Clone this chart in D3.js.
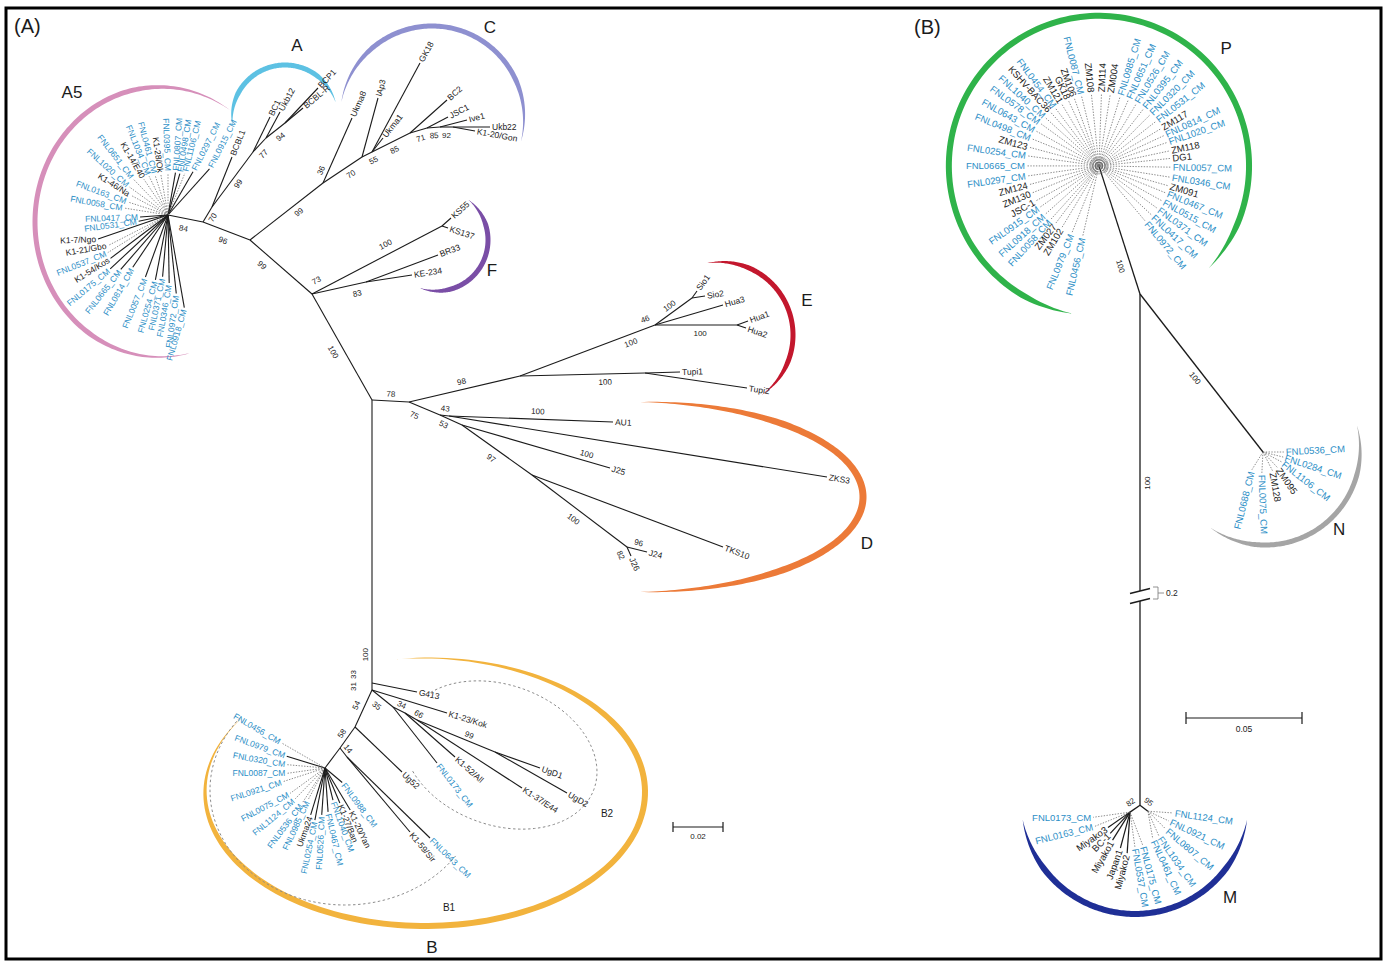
<!DOCTYPE html>
<html>
<head>
<meta charset="utf-8">
<script src="https://cdn.jsdelivr.net/npm/d3@7/dist/d3.min.js"></script>
<style>
  body { margin: 0; background: #fff; }
  text { font-family: "Liberation Sans", Arial, sans-serif; }
</style>
</head>
<body>
<div id="fig"></div>
<script>
// ---------- data ----------
// panel A: nodes [id, parent, x, y], positions in 0.001 substitutions/site from the central node
var nodesA = [
  ["r", null, 0, 0],
  ["nB", "r", 0, 113.2],
  ["nE0", "r", 14.8, 0.8],
  ["nEup", "nE0", 59.2, -9.6],
  ["nE1", "nEup", 113.2, -30],
  ["nSio", "nE1", 128, -40.8],
  ["Sio1", "nSio", 130, -43.6],
  ["Sio2", "nSio", 133.2, -41.6],
  ["Hua3", "nE1", 140.4, -38],
  ["nHua", "nE1", 146, -30],
  ["Hua1", "nHua", 150.4, -31.6],
  ["Hua2", "nHua", 149.6, -28.8],
  ["nTupi", "nEup", 109.2, -10.8],
  ["Tupi1", "nTupi", 123.2, -11.2],
  ["Tupi2", "nTupi", 150, -4.8],
  ["nD0", "nE0", 27.2, 6],
  ["nD1", "nD0", 30.8, 6.4],
  ["AU1", "nD1", 96.4, 8.8],
  ["ZKS3", "nD1", 182, 30.8],
  ["nD2", "nD0", 36, 10],
  ["J25", "nD2", 95.2, 27.2],
  ["nD3", "nD2", 64, 30],
  ["TKS10", "nD3", 140.4, 58.8],
  ["nD4", "nD3", 102, 58.8],
  ["J24", "nD4", 110, 60.8],
  ["J26", "nD4", 103.6, 62.4],
  ["nF", "r", -24, -42.4],
  ["nKS", "nF", 28, -69.6],
  ["KS55", "nKS", 31.6, -72.8],
  ["KS137", "nKS", 30.4, -68.8],
  ["nBK", "nF", -2.4, -47.2],
  ["BR33", "nBK", 26.4, -58],
  ["KE-234", "nBK", 16, -50],
  ["nAC", "nF", -48.8, -64],
  ["nAA", "nAC", -67.6, -71.2],
  ["nA5", "nAA", -81.6, -74],
  ["nA0", "nAA", -64, -77.2],
  ["BCBL1", "nA0", -56, -97.2],
  ["nA1", "nA0", -47.6, -99.2],
  ["BC1", "nA1", -40.8, -113.2],
  ["nA2", "nA1", -42.4, -104.8],
  ["Ukb12", "nA2", -36.8, -115.2],
  ["nA3", "nA2", -34.8, -110.8],
  ["BCBL-R", "nA3", -27.6, -116.8],
  ["BCP1", "nA3", -21.6, -124.8],
  ["nC0", "nAC", -19.6, -86.8],
  ["Ukma8", "nC0", -8, -112.8],
  ["nC1", "nC0", -4, -97.2],
  ["lAp3", "nC1", 2.4, -120.8],
  ["nC2", "nC1", 0, -99.2],
  ["GK18", "nC2", 19.2, -134.8],
  ["Ukma1", "nC2", 4.4, -104.8],
  ["nC3", "nC2", 15.2, -106.8],
  ["BC2", "nC3", 30, -120],
  ["nC4", "nC3", 22, -108.8],
  ["JSC1", "nC4", 30.4, -113.2],
  ["nC5", "nC4", 27.2, -109.2],
  ["Ive1", "nC5", 38, -112],
  ["nC6", "nC5", 32.4, -109.2],
  ["Ukb22", "nC6", 47.2, -109.2],
  ["K1-20/Gon", "nC6", 41.2, -107.6],
  ["G413", "nB", 18, 116.8],
  ["nB2", "nB", 0, 116],
  ["K1-23/Kok", "nB2", 30, 125.2],
  ["nB3", "nB2", 8.4, 122.8],
  ["FNL0173_CM", "nB3", 26, 145.2],
  ["nB4", "nB3", 13.2, 125.2],
  ["K1-52/All", "nB4", 33.2, 142.8],
  ["nB5", "nB4", 18, 128],
  ["K1-37/E44", "nB5", 60, 155.2],
  ["nB6", "nB5", 49.2, 140.8],
  ["UgD1", "nB6", 67.2, 147.2],
  ["UgD2", "nB6", 78, 157.2],
  ["nBL", "nB2", -6.8, 130.8],
  ["Ug52", "nBL", 12, 148.8],
  ["nBL2", "nBL", -12.8, 139.2],
  ["nBL3", "nBL2", -10, 142.8],
  ["K1-59/Sir", "nBL3", 15.2, 172.8],
  ["FNL0643_CM", "nBL3", 23.2, 175.2],
  ["nB1", "nBL2", -18.8, 147.2]
];

// bootstrap support [child node, value]
var bootValuesA = [
  ["nF", "100"], ["nKS", "73"], ["nBK", "83"], ["nKS", "100"], ["nAC", "99"], ["nAA", "96"],
  ["nA5", "84"], ["nA0", "70"], ["nA1", "99"], ["nA2", "77"], ["nA3", "94"], ["nC0", "99"],
  ["Ukma8", "36"], ["nC1", "70"], ["nC2", "55"], ["nC3", "85"], ["nC4", "71"], ["nC5", "85"],
  ["nC6", "92"], ["nEup", "98"], ["nE0", "78"], ["nD0", "75"], ["nD1", "43"], ["nD2", "53"],
  ["AU1", "100"], ["J25", "100"], ["nD3", "97"], ["nD4", "100"], ["J24", "96"], ["J26", "82"],
  ["nE1", "100"], ["nE1", "46"], ["nSio", "100"], ["nHua", "100"], ["nTupi", "100"],
  ["nB", "100"], ["nB", "33"], ["nB2", "31"], ["nB3", "35"], ["nB4", "34"], ["nB5", "66"],
  ["nB6", "99"], ["nBL", "54"], ["nBL2", "58"], ["nBL3", "14"]
];

// star-like clusters: [taxon, angle deg, branch length (0.001 subs/site), solid?, label angle]
var leavesA5 = [
  ["FNL0915_CM", 312, 24.8, 1, 297], ["FNL0297_CM", 300, 20, 1, 297], ["FNL1106_CM", 292, 18, 0, 284],
  ["FNL0498_CM", 286, 17.2, 1, 279], ["FNL0807_CM", 280, 17.2, 1, 274], ["FNL0395_CM", 270, 16.8, 0, 268],
  ["K1-28/Ok", 260, 16.4, 0, 262], ["FNL0461_CM", 252, 16.8, 0, 255], ["FNL1034_CM", 244, 17.2, 0, 248],
  ["K1-14/E40", 236, 17.2, 0, 240], ["FNL0651_CM", 226, 20, 0, 232], ["FNL1020_CM", 216, 19.2, 0, 222],
  ["K1-46/Na", 208, 16.8, 0, 212], ["FNL0163_CM", 198, 16.8, 0, 200], ["FNL0058_CM", 189, 17.6, 0, 190],
  ["FNL0417_CM", 176, 11.2, 1, 178], ["FNL0531_CM", 168, 12, 1, 172], ["K1-7/Ngo", 161, 29.6, 1, 178],
  ["K1-21/Gbo", 153, 26.8, 0, 170], ["FNL0537_CM", 148, 28.4, 0, 158], ["K1-54/Kos", 143, 28.8, 1, 148],
  ["FNL0175_CM", 137, 31.6, 1, 140], ["FNL0665_CM", 131, 28.8, 1, 128], ["FNL0814_CM", 124, 25.2, 1, 120],
  ["FNL0057_CM", 110, 26.4, 1, 112], ["FNL0254_CM", 101, 26.4, 1, 106], ["FNL0371_CM", 95, 24.8, 1, 102],
  ["FNL0346_CM", 89, 27.2, 1, 100], ["FNL0972_CM", 84, 31.6, 1, 98], ["FNL0918_CM", 80, 37.6, 1, 106]
];
var leavesB1 = [
  ["FNL0456_CM", 210, 20, 0, 210], ["FNL0979_CM", 197, 16, 1, 200], ["FNL0320_CM", 185, 15.2, 0, 190],
  ["FNL0087_CM", 172, 15.2, 0, 180], ["FNL0921_CM", 162, 17.6, 0, 162], ["FNL0075_CM", 144, 17.2, 0, 152],
  ["FNL1124_CM", 134, 17.2, 0, 140], ["FNL0536_CM", 123, 16.8, 0, 127], ["FNL0985_CM", 118, 14.4, 0, 115],
  ["Ukma24", 107, 19.6, 1, 110], ["FNL0254_CM", 101, 21.2, 1, 102], ["FNL0526_CM", 94, 18.8, 1, 93],
  ["FNL0467_CM", 86, 17.6, 1, 77], ["FNL1040_CM", 76, 13.2, 1, 70], ["K1-27/Ban", 67, 15.2, 1, 68],
  ["K1-20/Yan", 59, 19.6, 1, 64], ["FNL0988_CM", 40, 9, 1, 53]
];

// panel B: nodes in 0.001 substitutions/site; the M branch crosses a 0.2 cut
var breakB = [128, 328];
var nodesB = [
  ["nT", null, 0, 0],
  ["nP", "nT", -17.7, -55.2],
  ["nN", "nT", 53, 68.1],
  ["nM", "nT", 0, 416],
  ["nM1", "nM", -4.3, 419],
  ["nM2", "nM", 3.4, 418.6]
];
var bootValuesB = [["nP", "100"], ["nN", "100"], ["nM", "100"], ["nM1", "82"], ["nM2", "95"]];

// [taxon, angle deg]
var leavesP = [
  ["FNL0456_CM", 103], ["FNL0979_CM", 112], ["ZM102", 121], ["ZM027", 127], ["FNL0058_CM", 132],
  ["FNL0918_CM", 138], ["FNL0915_CM", 145], ["JSC-1", 151], ["ZM130", 158], ["ZM124", 165],
  ["FNL0297_CM", 172], ["FNL0665_CM", 180], ["FNL0254_CM", 188], ["ZM123", 195], ["FNL0498_CM", 202],
  ["FNL0643_CM", 209], ["FNL0578_CM", 216], ["FNL1040_CM", 222], ["KSHV-BAC36", 228], ["FNL0454_CM", 233],
  ["ZM121", 239], ["GK18", 245], ["ZM106", 250], ["FNL0087_CM", 256], ["ZM108", 264], ["ZM114", 272],
  ["ZM004", 279], ["FNL0985_CM", 287], ["FNL0651_CM", 294], ["FNL0526_CM", 301], ["FNL0395_CM", 308],
  ["FNL0320_CM", 315], ["FNL0531_CM", 322], ["ZM117", 329], ["FNL0814_CM", 335], ["FNL1020_CM", 341],
  ["ZM118", 348], ["DG1", 354], ["FNL0057_CM", 361], ["FNL0346_CM", 369], ["ZM091", 376],
  ["FNL0467_CM", 382], ["FNL0515_CM", 389], ["FNL0371_CM", 396], ["FNL0417_CM", 403], ["FNL0972_CM", 410]
];
// [taxon, angle, label angle]
var leavesN = [
  ["FNL0536_CM", 0, -3], ["FNL0284_CM", 14, 18], ["FNL1106_CM", 28, 38], ["ZM095", 47, 55],
  ["ZM128", 63, 80], ["FNL0075_CM", 93, 88], ["FNL0688_CM", 122, 104]
];
// [taxon, node, angle, length, solid?, label angle]
var leavesM = [
  ["FNL0173_CM", "nM1", 172, 16, 0, 180], ["FNL0163_CM", "nM1", 158, 16.4, 0, 166],
  ["Miyako3", "nM1", 145, 11.6, 1, 145], ["BC-1", "nM1", 133, 12.5, 1, 135],
  ["Miyako1", "nM1", 122, 14.2, 1, 120], ["Japan1", "nM1", 105, 16, 1, 110],
  ["Miyako2", "nM1", 94, 17.7, 1, 105], ["FNL0537_CM", "nM1", 82, 15.1, 0, 80],
  ["FNL0175_CM", "nM1", 69, 15.1, 0, 75], ["FNL0461_CM", "nM2", 80, 12.1, 0, 65],
  ["FNL1034_CM", "nM2", 66, 11.6, 0, 55], ["FNL0807_CM", "nM2", 45, 10.8, 0, 40],
  ["FNL0921_CM", "nM2", 25, 9.9, 0, 25], ["FNL1124_CM", "nM2", 4, 10.8, 0, 8]
];

// ---------- layout ----------
var BLUE = "#2b8ec6", INK = "#1b1b1b";
var W = 1386, H = 962;

// where each bootstrap sits along its branch: [fraction, offset px]
var bootPlaceA = [
  [0.5, -10], [0.07, 10], [0.8, -9], [0.6, 10], [0.69, -11], [0.5, -10],
  [0.5, -10], [0.5, -6], [0.5, -7], [0.3, -9], [0.5, -8], [0.6, -8],
  [0.15, 7], [0.6, -8], [0.8, -8], [0.5, -8], [0.5, -8], [0.5, -8],
  [0.5, -8], [0.49, 8], [0.5, 7], [0.3, -10], [0.5, 7], [0.3, -7],
  [0.54, 8], [0.83, 7], [0.5, -10], [0.5, -10], [0.5, 7], [0.5, -9],
  [0.8, -8], [0.95, 9], [0.5, 7], [0.55, -8], [0.68, -8],
  [0.9, 7], [0.97, 19], [0.5, 19], [0.5, -9], [0.5, 6], [0.9, 6],
  [0.64, 6], [0.5, 8], [0.5, 7], [0.5, 6]
];
var bootPlaceB = [[0.24, -10], [0.5, -8], [0.37, -7], [0.5, 8], [0.5, 8]];

var cladeArcsA = [
  { name: "A5", color: "#d68fba", cx: -84.8, cy: -71.2, rx: 50, ry: 54, rot: 0, a0: -55, a1: -285, w: 5, lx: -120, ly: -123 },
  { name: "A", color: "#5dc1e3", cx: -34.8, cy: -112.8, rx: 21.2, ry: 21.2, rot: 0, a0: 171, a1: 343, w: 5, lx: -30, ly: -142 },
  { name: "C", color: "#8e90d0", cx: 24, cy: -112.8, rx: 36.8, ry: 36.8, rot: 0, a0: 190, a1: 375, w: 5, lx: 47.2, ly: -149 },
  { name: "F", color: "#7a4ea6", cx: 26, cy: -64, rx: 20.4, ry: 20.4, rot: 0, a0: -52, a1: 110, w: 5, lx: 48, ly: -52 },
  { name: "E", color: "#c3172d", cx: 139.2, cy: -26, rx: 29.2, ry: 29.2, rot: 0, a0: -100, a1: 55, w: 5, lx: 174, ly: -40 },
  { name: "D", color: "#ec7a38", cx: 107.2, cy: 38.8, rx: 89.2, ry: 38, rot: 0, a0: -90, a1: 90, w: 7, lx: 198, ly: 57.2 },
  { name: "B", color: "#f2b33d", cx: 21.2, cy: 156.8, rx: 88, ry: 53.6, rot: 0, a0: 214, a1: -98, w: 6, lx: 24, ly: 218.8 }
];
var dashedA = [
  { name: "B1", cx: -10.8, cy: 156, rx: 54, ry: 46, rot: 0, a0: 219, a1: 35, lx: 30.8, ly: 202.8 },
  { name: "B2", cx: 51.2, cy: 142, rx: 40, ry: 28, rot: 20, a0: -150, a1: 140, lx: 94, ly: 165.2 }
];
var cladeArcsB = [
  { name: "P", color: "#2fb34a", cx: -17.7, cy: -55.2, rx: 64.7, ry: 64.7, rot: 0, a0: 100, a1: 403, w: 6, plateau: 5, lx: 37.1, ly: -106 },
  { name: "N", color: "#a5a5a5", cx: 53.9, cy: 67.2, rx: 41, ry: 41, rot: 0, a0: -15, a1: 125, w: 5, lx: 85.8, ly: 101.3 },
  { name: "M", color: "#1f2f96", cx: -2.2, cy: 413.8, rx: 49.1, ry: 49.1, rot: 0, a0: 170, a1: 10, w: 6, plateau: 2, lx: 38.8, ly: 455.6 }
];

// 1 unit = 0.001 substitutions per site
var xA = d3.scaleLinear().domain([0, 20]).range([372, 422]);
var yA = d3.scaleLinear().domain([0, 20]).range([400, 450]);
var xB = d3.scaleLinear().domain([0, 50]).range([1140, 1256]);
var yB = d3.scaleLinear().domain([0, breakB[0], breakB[1], 428]).range([294, 591, 601, 833]);

var svg = d3.select("#fig").append("svg").attr("width", W).attr("height", H);
svg.append("rect").attr("width", W).attr("height", H).attr("fill", "#fff");

function tipLabel(g, p, ang, name, fs) {
  var a = ang * Math.PI / 180, flip = Math.cos(a) < -1e-9;
  var q = [p[0] + 2 * Math.cos(a), p[1] + 2 * Math.sin(a)];
  g.append("text")
    .attr("transform", "translate(" + q[0] + "," + q[1] + ") rotate(" + (flip ? ang - 180 : ang) + ")")
    .attr("text-anchor", flip ? "end" : "start")
    .attr("dy", "0.35em")
    .attr("font-size", fs)
    .attr("fill", /^FNL/.test(name) ? BLUE : INK)
    .text(name);
}

function drawTree(g, rows, xs, ys, gap, fs, sw) {
  var m = {};
  rows.forEach(function (d) { m[d[0]] = { id: d[0], parent: d[1], x: d[2], y: d[3], kids: 0 }; });
  rows.forEach(function (d) { if (d[1]) m[d[1]].kids++; });
  var pos = function (n) { return [xs(n.x), ys(n.y)]; };
  rows.forEach(function (d) {
    if (!d[1]) return;
    var c = m[d[0]], p = m[d[1]];
    var segs = [[p, c]];
    if (gap && p.y < gap[0] && c.y > gap[1]) {
      segs = [[p, { x: p.x, y: gap[0] }], [{ x: c.x, y: gap[1] }, c]];
    }
    segs.forEach(function (s) {
      g.append("line")
        .attr("x1", xs(s[0].x)).attr("y1", ys(s[0].y))
        .attr("x2", xs(s[1].x)).attr("y2", ys(s[1].y))
        .attr("stroke", INK).attr("stroke-width", sw);
    });
    if (!c.kids && c.id.charAt(0) !== "n") {
      var a = Math.atan2(ys(c.y) - ys(p.y), xs(c.x) - xs(p.x)) * 180 / Math.PI;
      tipLabel(g, pos(c), a, c.id, fs);
    }
  });
  return { node: m, pos: pos };
}

function drawBoots(g, T, values, place, fs) {
  values.forEach(function (b, i) {
    var c = T.node[b[0]], p = T.node[c.parent];
    var P = T.pos(p), C = T.pos(c);
    var a = Math.atan2(C[1] - P[1], C[0] - P[0]) * 180 / Math.PI;
    if (a >= 90) a -= 180;
    if (a < -90) a += 180;
    var r = a * Math.PI / 180, t = place[i][0], off = place[i][1];
    var x = P[0] + t * (C[0] - P[0]) + off * Math.sin(r);
    var y = P[1] + t * (C[1] - P[1]) - off * Math.cos(r);
    g.append("text")
      .attr("transform", "translate(" + x + "," + y + ") rotate(" + a + ")")
      .attr("text-anchor", "middle").attr("dy", "0.35em")
      .attr("font-size", fs).attr("fill", INK)
      .text(b[1]);
  });
}

// leaves: objects {name, angle, len, solid, tang}
function drawFan(g, c, leaves, k, fs, sw) {
  leaves.forEach(function (d) {
    var a = d.angle * Math.PI / 180, L = d.len * k;
    var tip = [c[0] + L * Math.cos(a), c[1] + L * Math.sin(a)];
    g.append("line")
      .attr("x1", c[0]).attr("y1", c[1]).attr("x2", tip[0]).attr("y2", tip[1])
      .attr("stroke", d.solid ? INK : "#6e6e6e")
      .attr("stroke-width", d.solid ? sw : 0.8)
      .attr("stroke-dasharray", d.solid ? null : "1.4,1.4");
    tipLabel(g, tip, d.tang, d.name, fs);
  });
}

function arcPath(cx, cy, rx, ry, rot, a0, a1, w, plateau) {
  var n = 160, outer = [], inner = [];
  var cr = Math.cos(rot * Math.PI / 180), sr = Math.sin(rot * Math.PI / 180);
  for (var i = 0; i <= n; i++) {
    var t = i / n, a = (a0 + (a1 - a0) * t) * Math.PI / 180;
    var hw = w / 2 * Math.min(1, Math.sin(Math.PI * t) * plateau);
    [[rx + hw, ry + hw, outer], [rx - hw, ry - hw, inner]].forEach(function (s) {
      var lx = s[0] * Math.cos(a), ly = s[1] * Math.sin(a);
      s[2].push([cx + lx * cr - ly * sr, cy + lx * sr + ly * cr]);
    });
  }
  if (!w) return d3.line()(outer);
  return d3.line()(outer.concat(inner.reverse())) + "Z";
}

function drawArcs(g, arcs, xs, ys, fill) {
  var k = xs(1) - xs(0);
  arcs.forEach(function (d) {
    var p = arcPath(xs(d.cx), ys(d.cy), d.rx * k, d.ry * k, d.rot, d.a0, d.a1, d.w || 0, d.plateau || 1.6);
    if (fill) {
      g.append("path").attr("d", p).attr("fill", d.color);
    } else {
      g.append("path").attr("d", p).attr("fill", "none")
        .attr("stroke", "#8a8a8a").attr("stroke-width", 1).attr("stroke-dasharray", "2.5,2.5");
    }
    g.append("text").attr("x", xs(d.lx)).attr("y", ys(d.ly))
      .attr("text-anchor", "middle").attr("dy", "0.35em")
      .attr("font-size", fill ? 17 : 10).attr("fill", INK).text(d.name);
  });
}

function fanRows(rows) {
  return rows.map(function (d) { return { name: d[0], angle: d[1], len: d[2], solid: d[3], tang: d[4] }; });
}

// ---------- panel A ----------
var gA = svg.append("g");
drawArcs(gA, cladeArcsA, xA, yA, true);
drawArcs(gA, dashedA, xA, yA, false);
var TA = drawTree(gA, nodesA, xA, yA, null, 8.5, 1.1);
drawBoots(gA, TA, bootValuesA, bootPlaceA, 8);
var kA = xA(1) - xA(0);
drawFan(gA, TA.pos(TA.node["nA5"]), fanRows(leavesA5), kA, 8.5, 1.1);
drawFan(gA, TA.pos(TA.node["nB1"]), fanRows(leavesB1), kA, 8.5, 1.1);

// scale bar 0.02
var sbA = { x: 673, y: 827 };
var lenA = xA(20) - xA(0);
gA.append("path")
  .attr("d", "M" + sbA.x + "," + (sbA.y - 5) + "V" + (sbA.y + 5) + "M" + sbA.x + "," + sbA.y + "H" + (sbA.x + lenA) +
    "M" + (sbA.x + lenA) + "," + (sbA.y - 5) + "V" + (sbA.y + 5))
  .attr("stroke", INK).attr("stroke-width", 1.2).attr("fill", "none");
gA.append("text").attr("x", sbA.x + lenA / 2).attr("y", sbA.y + 12)
  .attr("text-anchor", "middle").attr("font-size", 8).attr("fill", INK).text("0.02");

// ---------- panel B ----------
var gB = svg.append("g");
drawArcs(gB, cladeArcsB, xB, yB, true);
var TB = drawTree(gB, nodesB, xB, yB, breakB, 9.5, 1.3);
drawBoots(gB, TB, bootValuesB, bootPlaceB, 8);
var kB = xB(1) - xB(0);
var rP = 31;
var pC = TB.pos(TB.node["nP"]);
drawFan(gB, pC, leavesP.map(function (d) { return { name: d[0], angle: d[1], len: rP, solid: 0, tang: d[1] }; }), kB, 9.5, 1.2);
[2, 4, 6, 8].forEach(function (r) {
  gB.append("circle").attr("cx", pC[0]).attr("cy", pC[1]).attr("r", r)
    .attr("fill", "none").attr("stroke", "#555").attr("stroke-width", 0.5);
});
var rN = 9;
drawFan(gB, TB.pos(TB.node["nN"]), leavesN.map(function (d) { return { name: d[0], angle: d[1], len: rN, solid: 0, tang: d[2] }; }), kB, 9.5, 1.2);
leavesM.forEach(function (d) {
  drawFan(gB, TB.pos(TB.node[d[1]]), [{ name: d[0], angle: d[2], len: d[3], solid: d[4], tang: d[5] }], kB, 9.5, 1.2);
});

// cut marks on the long M branch
var bx = xB(0);
[yB(breakB[0]), yB(breakB[1])].forEach(function (y) {
  gB.append("line").attr("x1", bx - 10).attr("y1", y + 2.5).attr("x2", bx + 10).attr("y2", y - 2.5)
    .attr("stroke", INK).attr("stroke-width", 1.3);
});
var by0 = yB(breakB[0]) - 4, by1 = yB(breakB[1]) - 2;
gB.append("path").attr("d", "M" + (bx + 13) + "," + by0 + "H" + (bx + 18) + "V" + by1 + "H" + (bx + 13) +
  "M" + (bx + 18) + "," + ((by0 + by1) / 2) + "H" + (bx + 24))
  .attr("stroke", "#777").attr("stroke-width", 0.8).attr("fill", "none");
gB.append("text").attr("x", bx + 26).attr("y", (by0 + by1) / 2).attr("dy", "0.35em")
  .attr("font-size", 8.5).attr("fill", INK).text("0.2");

// scale bar 0.05
var sbB = { x: 1186, y: 718 };
var lenB = xB(50) - xB(0);
gB.append("path")
  .attr("d", "M" + sbB.x + "," + (sbB.y - 6) + "V" + (sbB.y + 6) + "M" + sbB.x + "," + sbB.y + "H" + (sbB.x + lenB) +
    "M" + (sbB.x + lenB) + "," + (sbB.y - 6) + "V" + (sbB.y + 6))
  .attr("stroke", INK).attr("stroke-width", 1.2).attr("fill", "none");
gB.append("text").attr("x", sbB.x + lenB / 2).attr("y", sbB.y + 14)
  .attr("text-anchor", "middle").attr("font-size", 8.5).attr("fill", INK).text("0.05");

// ---------- frame and panel letters ----------
svg.append("rect").attr("x", 6).attr("y", 8).attr("width", 1375).attr("height", 951)
  .attr("fill", "none").attr("stroke", "#000").attr("stroke-width", 3);
svg.append("text").attr("x", 14).attr("y", 33).attr("font-size", 20).attr("fill", INK).text("(A)");
svg.append("text").attr("x", 914).attr("y", 34).attr("font-size", 20).attr("fill", INK).text("(B)");
</script>
</body>
</html>
